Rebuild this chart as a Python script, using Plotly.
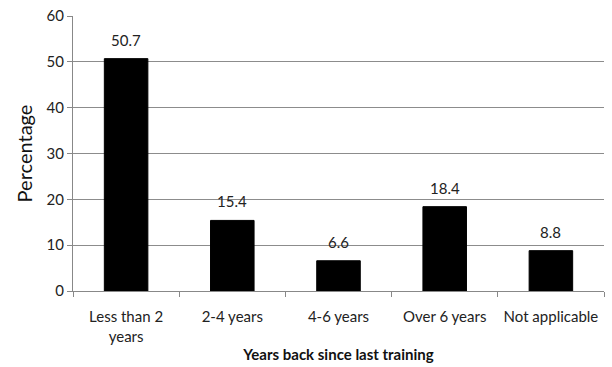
import plotly.graph_objects as go

categories = ["Less than 2<br>years", "2-4 years", "4-6 years", "Over 6 years", "Not applicable"]
values = [50.7, 15.4, 6.6, 18.4, 8.8]
labels = ["50.7", "15.4", "6.6", "18.4", "8.8"]

font = "Lato, Open Sans, sans-serif"

fig = go.Figure(go.Bar(
    x=categories, y=values,
    marker=dict(color="black", line=dict(color="black", width=1)),
    width=0.41,
))

for c, v, t in zip(categories, values, labels):
    fig.add_annotation(x=c, y=v, text=t, showarrow=False, yanchor="bottom",
                       yshift=8, font=dict(size=15, family=font, color="#222"))

fig.update_layout(
    width=612, height=367,
    margin=dict(l=73, r=8, t=16, b=76),
    plot_bgcolor="white", paper_bgcolor="white",
    showlegend=False,
    font=dict(family=font, color="#222"),
    xaxis=dict(
        automargin=False,
        showline=True, linecolor="#888", linewidth=1,
        ticks="outside", tickcolor="#888", ticklen=5,
        tickson="boundaries", ticklabelstandoff=12,
        tickfont=dict(size=15, family=font, color="#222"),
        title=dict(text="<b>Years back since last training</b>", font=dict(size=15, family=font, color="#111"), standoff=5),
    ),
    yaxis=dict(
        automargin=False,
        range=[0, 60], dtick=10,
        showline=True, linecolor="#888", linewidth=1,
        showgrid=True, gridcolor="#8c8c8c", gridwidth=1,
        ticks="outside", tickcolor="#888", ticklen=5,
        tickfont=dict(size=15, family=font, color="#222"),
        zeroline=False,
        title=dict(text="Percentage", font=dict(size=20, family=font, color="#111"), standoff=8),
    ),
)

fig.write_html("out.html")
